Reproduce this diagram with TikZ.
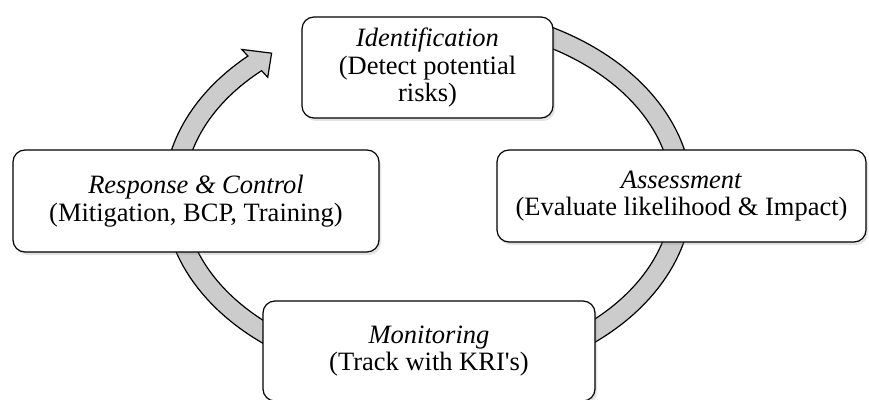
\documentclass[tikz,border=0pt]{standalone}
\usepackage{fontspec}
\setmainfont{Liberation Serif}
\usetikzlibrary{calc,shadows}
\tikzset{
  stagebox/.style={draw=black, line width=1.2pt, fill=white, rounded corners=12pt,
    inner sep=0pt, align=center, font=\fontsize{26.5}{27.5}\selectfont,
    drop shadow={opacity=0.22, shadow xshift=2pt, shadow yshift=-3pt}},
  ringshape/.style={draw=black, line width=1.2pt, fill=gray!40, line join=miter}
}
\begin{document}
\begin{tikzpicture}[x=1pt,y=1pt]
\useasboundingbox (0,0) rectangle (869,399);
\coordinate (C) at (428,204);
% cycle ring with arrow head
\draw[ringshape]
  ($(C)+(63:264pt and 190pt)$)
  arc[start angle=63, end angle=-227, x radius=264pt, y radius=190pt]
  -- ($(C)+(-227:273pt and 199pt)$)
  -- ($(C)+(-232:254pt and 180pt)$)
  -- ($(C)+(-227:235pt and 161pt)$)
  -- ($(C)+(-227:244pt and 170pt)$)
  arc[start angle=-227, end angle=63, x radius=244pt, y radius=170pt]
  -- cycle;
% stages
\node[stagebox, minimum width=251pt, minimum height=101pt] (ident) at (427.5,331.5)
  {\textit{Identification}\\(Detect potential\\risks)};
\node[stagebox, minimum width=369pt, minimum height=92pt] (assess) at (681.5,203)
  {\textit{Assessment}\\(Evaluate likelihood \& Impact)};
\node[stagebox, minimum width=332pt, minimum height=100pt] (monit) at (429,48)
  {\textit{Monitoring}\\(Track with KRI\textquotesingle s)};
\node[stagebox, minimum width=366pt, minimum height=102pt] (resp) at (196,198)
  {\textit{Response \& Control}\\(Mitigation, BCP, Training)};
\end{tikzpicture}
\end{document}
